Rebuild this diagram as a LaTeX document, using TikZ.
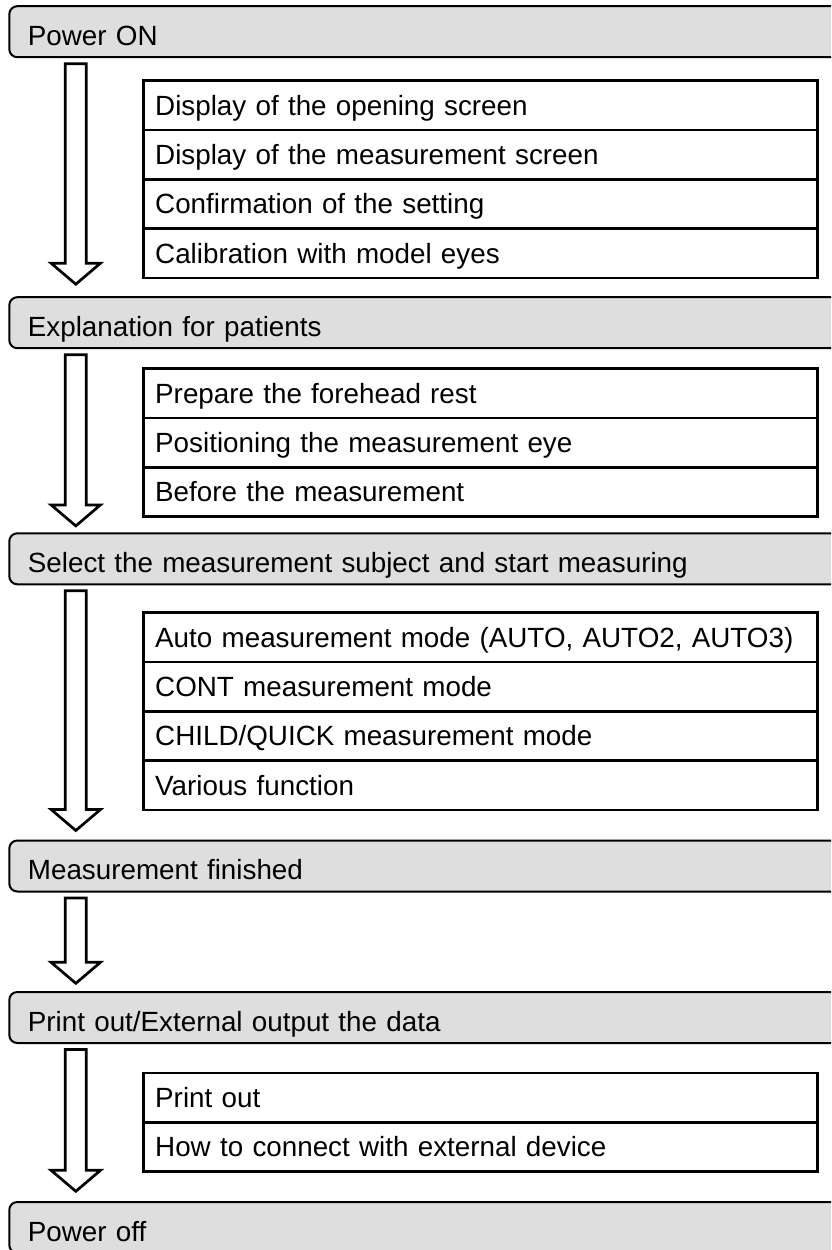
\documentclass[tikz,border=0pt]{standalone}
\usepackage{fontspec}
\setmainfont{Liberation Sans}
\usetikzlibrary{positioning,calc}
\definecolor{stepgray}{HTML}{DEDEDE}
\tikzset{
    flowstep/.style={draw=black, line width=2pt, fill=stepgray, rounded corners=8pt, anchor=west, align=left, text width=800pt, inner xsep=18.6pt, minimum height=51pt, text height=27.5pt, text depth=0pt, outer sep=0pt, font=\fontsize{27.8}{33}\selectfont},
    flowitem/.style={draw, line width=2.7pt, rectangle, align=left, text width=650.3pt, inner xsep=12pt, minimum height=49.3pt, text height=19.5pt, text depth=0pt, outer sep=0pt, font=\fontsize{27.8}{33}\selectfont},
    flowarrow/.style={draw, line width=2.7pt, fill=white, miter limit=10}
}

\begin{document}
\begin{tikzpicture}[x=1pt, y=-1pt]
    \useasboundingbox (0,0) rectangle (831,1250);
    \clip (0,0) rectangle (831,1250);

    % main steps
    \node[flowstep] (pon) at (9.3,31.7) {Power ON};
    \node[flowstep] (expl) at (9.3,322.7) {Explanation for patients};
    \node[flowstep] (selmeas) at (9.3,558.8) {Select the measurement subject and start measuring};
    \node[flowstep] (measfin) at (9.3,866) {Measurement finished};
    \node[flowstep] (printdata) at (9.3,1017.5) {Print out/External output the data};
    \node[flowstep] (poff) at (9.3,1227.5) {Power off};

    % sub items
    \node[flowitem, anchor=north west] (opening) at (143.2,80.7) {Display of the opening screen};
    \node[flowitem, below=0pt of opening] (mscreen) {Display of the measurement screen};
    \node[flowitem, below=0pt of mscreen] (confirm) {Confirmation of the setting};
    \node[flowitem, below=0pt of confirm] (calib) {Calibration with model eyes};

    \node[flowitem, anchor=north west] (forehead) at (143.2,368.8) {Prepare the forehead rest};
    \node[flowitem, below=0pt of forehead] (position) {Positioning the measurement eye};
    \node[flowitem, below=0pt of position] (before) {Before the measurement};

    \node[flowitem, anchor=north west] (automode) at (143.2,612.8) {Auto measurement mode (AUTO, AUTO2, AUTO3)};
    \node[flowitem, below=0pt of automode] (contmode) {CONT measurement mode};
    \node[flowitem, below=0pt of contmode] (childmode) {CHILD/QUICK measurement mode};
    \node[flowitem, below=0pt of childmode] (various) {Various function};

    \node[flowitem, anchor=north west] (printout) at (143.2,1073) {Print out};
    \node[flowitem, below=0pt of printout] (connect) {How to connect with external device};

    % hollow arrows between steps
    \foreach \a/\b/\g in {pon/expl/13, expl/selmeas/7.4, selmeas/measfin/10, measfin/printdata/8.7, printdata/poff/10.7}
        \draw[flowarrow] let \p1=(\a.south), \p2=(\b.north) in
            (65.3pt,\y1-6.5pt) -- (86.3pt,\y1-6.5pt) -- (86.3pt,\y2+\g*1pt+21pt) -- (100.5pt,\y2+\g*1pt+21pt)
            -- (75.8pt,\y2+\g*1pt) -- (51.1pt,\y2+\g*1pt+21pt) -- (65.3pt,\y2+\g*1pt+21pt) -- cycle;
\end{tikzpicture}
\end{document}
